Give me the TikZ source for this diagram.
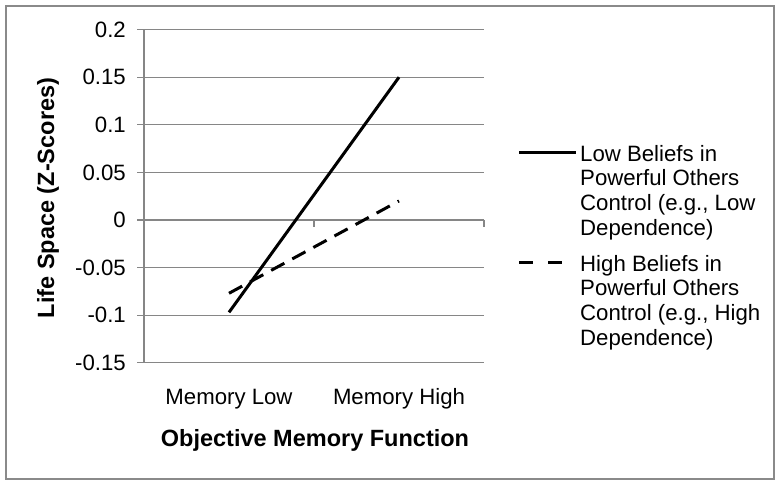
\documentclass[tikz,border=0pt]{standalone}
\usepackage{fontspec}
\setmainfont{Liberation Sans}
\usepackage{tikz}
\definecolor{gridgray}{RGB}{134,134,134}
\definecolor{framegray}{RGB}{138,138,138}

\begin{document}
\begin{tikzpicture}[x=1pt, y=1pt,
  gridline/.style={draw=gridgray, line width=1.1pt},
  ticklabel/.style={anchor=east, inner sep=0pt, font=\fontsize{22.2}{26}\selectfont},
  catlabel/.style={anchor=base, inner sep=0pt, font=\fontsize{22.2}{26}\selectfont},
  axistitle/.style={inner sep=0pt, font=\fontsize{23.5}{28}\selectfont\bfseries},
  legendtext/.style={anchor=north west, inner sep=0pt, align=left, font=\fontsize{22.2}{24.7}\selectfont},
  lowline/.style={draw=black, line width=3pt},
  highline/.style={draw=black, line width=3pt, dash pattern=on 15pt off 9pt}]
\useasboundingbox (0,0) rectangle (781,486);
\draw[framegray, line width=2pt] (6,7) rectangle (774,480);

% value axis, gridlines and tick labels
\foreach \v [count=\i] in {-0.15,-0.1,-0.05,0,0.05,0.1,0.15,0.2} {
  \draw[gridline] (137,266+952*\v) -- (484,266+952*\v);
  \node[ticklabel](ytick\i) at (126,266+952*\v) {\v};
}
\draw[gridline] (144,123.2) -- (144,456.4);
\foreach \x in {144,314,484}
  \draw[gridline] (\x,266) -- (\x,259);

% category axis
\node[catlabel](memlow) at (229,81) {Memory Low};
\node[catlabel](memhigh) at (399,81) {Memory High};
\node[axistitle](xtitle) at (315,46) {Objective Memory Function};
\node[axistitle, rotate=90](ytitle) at (48,288) {Life Space (Z-Scores)};

% the two lines
\coordinate (lowA) at (229,266-952*0.097);
\coordinate (lowB) at (399,266+952*0.15);
\coordinate (highA) at (229,266-952*0.077);
\coordinate (highB) at (399,266+952*0.02);
\path[lowline] (lowA) edge (lowB);
\path[highline] (highA) edge (highB);

% legend
\coordinate (keylow1) at (519,333);
\coordinate (keylow2) at (576,333);
\coordinate (keyhigh1) at (519,223);
\coordinate (keyhigh2) at (576,223);
\path[lowline] (keylow1) edge (keylow2);
\path[highline, dash pattern=on 14pt off 15pt] (keyhigh1) edge (keyhigh2);
\node[legendtext](lowtext) at (580,341) {Low Beliefs in\\Powerful Others\\Control (e.g., Low\\Dependence)};
\node[legendtext](hightext) at (580,231) {High Beliefs in\\Powerful Others\\Control (e.g., High\\Dependence)};
\end{tikzpicture}
\end{document}
